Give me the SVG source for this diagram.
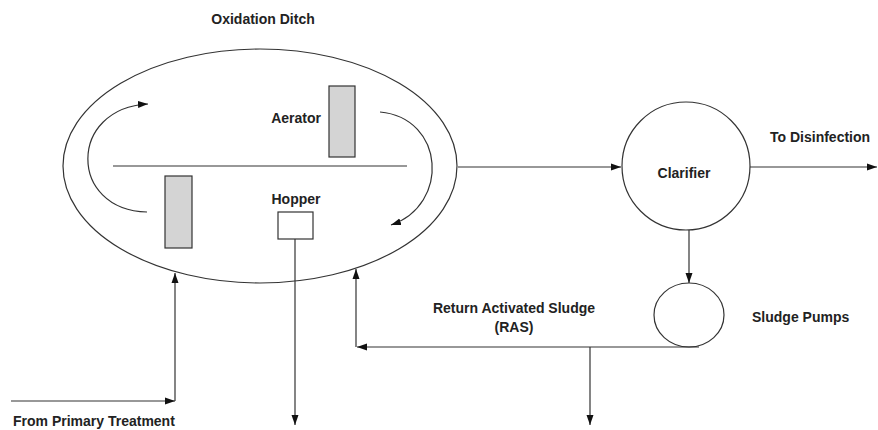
<svg xmlns="http://www.w3.org/2000/svg" width="878" height="430" viewBox="0 0 878 430">
<style>
.t{font-family:"Liberation Sans",Arial,sans-serif;font-size:14px;font-weight:bold;fill:#222}
.ln{fill:none;stroke:#333;stroke-width:1.2}
.sh{fill:#fff;stroke:#333;stroke-width:1.2}
.gr{fill:#d4d4d4;stroke:#333;stroke-width:1.2}
</style>
<defs>
<marker id="ah" markerUnits="userSpaceOnUse" markerWidth="10" markerHeight="8" refX="10" refY="4" orient="auto">
<path d="M0,0.5 L10,4 L0,7.5 Z" fill="#111"/>
</marker>
</defs>
<rect width="878" height="430" fill="#fff"/>
<g id="ditch">
<ellipse class="sh" cx="260" cy="166" rx="197" ry="117"/>
<line class="ln" x1="113" y1="166" x2="407" y2="166" stroke="#555"/>
<text class="t" x="263" y="24" text-anchor="middle">Oxidation Ditch</text>
</g>
<g id="aerator">
<rect class="gr" x="329" y="86" width="26" height="71"/>
<text class="t" x="321" y="123" text-anchor="end">Aerator</text>
</g>
<g id="aerator2">
<rect class="gr" x="165" y="176" width="27" height="72"/>
</g>
<g id="hopper">
<rect class="sh" x="278" y="212" width="35" height="27"/>
<text class="t" x="296" y="204" text-anchor="middle">Hopper</text>
</g>
<g id="clarifier">
<circle class="sh" cx="686" cy="166" r="64"/>
<text class="t" x="684" y="178" text-anchor="middle">Clarifier</text>
</g>
<g id="pumps">
<ellipse class="sh" cx="689" cy="315" rx="35" ry="32"/>
<text class="t" x="752" y="322">Sludge Pumps</text>
</g>
<g id="labels">
<text class="t" x="770" y="142">To Disinfection</text>
<text class="t" x="514" y="313" text-anchor="middle">Return Activated Sludge</text>
<text class="t" x="514" y="332" text-anchor="middle">(RAS)</text>
<text class="t" x="13" y="426">From Primary Treatment</text>
</g>
<g id="connectors">
<path class="ln" d="M147,212 C68,210 68,108 148,104" marker-end="url(#ah)"/>
<path class="ln" d="M380,112 C445,118 450,205 391,225" marker-end="url(#ah)"/>
<line class="ln" x1="458" y1="167" x2="621" y2="167" marker-end="url(#ah)"/>
<line class="ln" x1="750" y1="167" x2="877" y2="167" marker-end="url(#ah)"/>
<line class="ln" x1="689" y1="230" x2="689" y2="283" marker-end="url(#ah)"/>
<line class="ln" x1="11" y1="401" x2="175" y2="401" marker-end="url(#ah)"/>
<line class="ln" x1="175" y1="401" x2="175" y2="273" marker-end="url(#ah)"/>
<line class="ln" x1="295" y1="239" x2="295" y2="425" marker-end="url(#ah)"/>
<line class="ln" x1="699" y1="347" x2="357" y2="347" marker-end="url(#ah)"/>
<line class="ln" x1="356" y1="347" x2="356" y2="269" marker-end="url(#ah)"/>
<line class="ln" x1="590" y1="347" x2="590" y2="425" marker-end="url(#ah)"/>
</g>
</svg>
